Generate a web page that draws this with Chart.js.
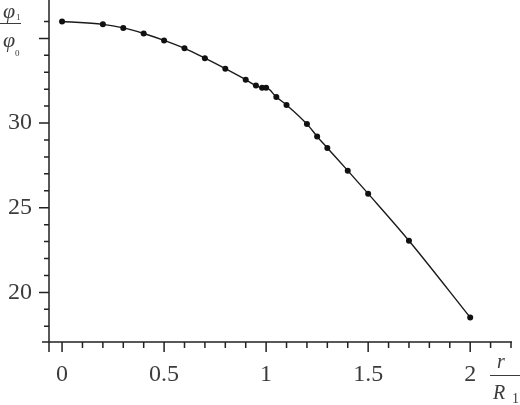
<!DOCTYPE html>
<html>
<head>
<meta charset="utf-8">
<script src="https://cdn.jsdelivr.net/npm/chart.js@4/dist/chart.umd.min.js"></script>
<style>
  html, body { margin: 0; padding: 0; background: #fff; }
  #wrap { width: 520px; height: 405px; position: relative; }
</style>
</head>
<body>
<div id="wrap"><canvas id="myChart"></canvas></div>
<script>
// r / R1 and phi1 / phi0
const rValues = [0, 0.2, 0.3, 0.4, 0.5, 0.6, 0.7, 0.8, 0.9, 0.95, 0.98, 1.0, 1.05, 1.1, 1.2, 1.25, 1.3, 1.4, 1.5, 1.7, 2.0]
const phiRatio = [36.0, 35.83, 35.62, 35.29, 34.88, 34.41, 33.83, 33.21, 32.56, 32.21, 32.08, 32.08, 31.54, 31.07, 29.94, 29.21, 28.53, 27.19, 25.83, 23.05, 18.52]

// tick marks and labels
const xTicks = [0, 0.1, 0.2, 0.3, 0.4, 0.5, 0.6, 0.7, 0.8, 0.9, 1, 1.1, 1.2, 1.3, 1.4, 1.5, 1.6, 1.7, 1.8, 1.9, 2, 2.1, 2.2]
const xMajor = [0, 0.5, 1, 1.5, 2]
const yTicks = [18, 19, 20, 21, 22, 23, 24, 25, 26, 27, 28, 29, 30, 31, 32, 33, 34, 35, 36]
const yMajor = [20, 25, 30, 35]
const yLabels = [20, 25, 30]

const ink = '#222'
const textColor = '#3c3c3c'
const serif = '"Liberation Serif", "Times New Roman", Times, serif'

// no extra room for half labels, the plot runs to the top edge
function noPadding(s) {
    s.paddingTop = 0
    s.paddingBottom = 0
    s.paddingLeft = 0
    s.paddingRight = 0
}

// draws axes, tick marks and the fraction titles
const axesPlugin = {
    id: 'axesPlugin',
    afterDraw(chart) {
        const c = chart.ctx
        const xs = chart.scales.x
        const ys = chart.scales.y
        const left = chart.chartArea.left
        const bottom = chart.chartArea.bottom
        c.save()
        c.strokeStyle = ink
        c.lineWidth = 1.5
        c.beginPath()
        c.moveTo(left - 7, bottom)
        c.lineTo(xs.getPixelForValue(2.2) + 1, bottom)
        c.moveTo(left, 0)
        c.lineTo(left, bottom + 10)
        xTicks.forEach(v => {
            const px = xs.getPixelForValue(v)
            const len = xMajor.includes(v) ? 10 : 6
            c.moveTo(px, bottom)
            c.lineTo(px, bottom + len)
        })
        yTicks.forEach(v => {
            const py = ys.getPixelForValue(v)
            const len = yMajor.includes(v) ? 10 : 5
            c.moveTo(left, py)
            c.lineTo(left - len, py)
        })
        c.stroke()

        // y title: phi1 / phi0
        c.fillStyle = textColor
        c.textBaseline = 'alphabetic'
        c.textAlign = 'left'
        c.font = 'italic 22px ' + serif
        c.fillText('φ', 3, 18)
        c.fillText('φ', 3, 47)
        c.font = '9px ' + serif
        c.fillText('1', 16, 20)
        c.fillText('0', 15, 56)
        c.lineWidth = 1
        c.strokeStyle = textColor
        c.beginPath()
        c.moveTo(0, 23.5)
        c.lineTo(21, 23.5)
        c.stroke()

        // x title: r / R1
        c.font = 'italic 20px ' + serif
        c.fillText('r', 497, 368)
        c.fillText('R', 493, 399)
        c.font = '14px ' + serif
        c.fillText('1', 512, 403)
        c.beginPath()
        c.moveTo(490, 375.5)
        c.lineTo(520, 375.5)
        c.stroke()
        c.restore()
    }
}

const ctx = document.getElementById('myChart').getContext('2d')

const myChart = new Chart(ctx, {
    type: 'scatter',
    data: {
        datasets: [{
            data: rValues.map((r, i) => ({ x: r, y: phiRatio[i] })),
            showLine: true,
            borderColor: '#1a1a1a',
            borderWidth: 1.4,
            backgroundColor: '#111',
            pointRadius: 3,
            pointBorderWidth: 0,
            cubicInterpolationMode: 'monotone',
            clip: false
        }]
    },
    options: {
        responsive: true,
        maintainAspectRatio: false,
        animation: false,
        events: [],
        layout: { padding: { top: 0, right: 9, left: 0, bottom: 0 } },
        plugins: {
            legend: { display: false },
            tooltip: { enabled: false }
        },
        scales: {
            x: {
                type: 'linear',
                min: -0.064,
                max: 2.2,
                afterBuildTicks: s => { s.ticks = xTicks.map(v => ({ value: v })) },
                afterFit: s => { s.height = 63; noPadding(s) },
                grid: { display: false, drawTicks: false },
                border: { display: false },
                ticks: {
                    autoSkip: false,
                    maxRotation: 0,
                    padding: 18,
                    color: textColor,
                    font: { family: serif, size: 24 },
                    callback: v => xMajor.includes(v) ? String(v) : ''
                }
            },
            y: {
                type: 'linear',
                min: 17.07,
                max: 37.03,
                afterBuildTicks: s => { s.ticks = yTicks.map(v => ({ value: v })) },
                afterFit: s => { s.width = 49; noPadding(s) },
                grid: { display: false, drawTicks: false },
                border: { display: false },
                ticks: {
                    autoSkip: false,
                    padding: 17,
                    color: textColor,
                    font: { family: serif, size: 24 },
                    callback: v => yLabels.includes(v) ? String(v) : ''
                }
            }
        }
    },
    plugins: [axesPlugin]
})
</script>
</body>
</html>
